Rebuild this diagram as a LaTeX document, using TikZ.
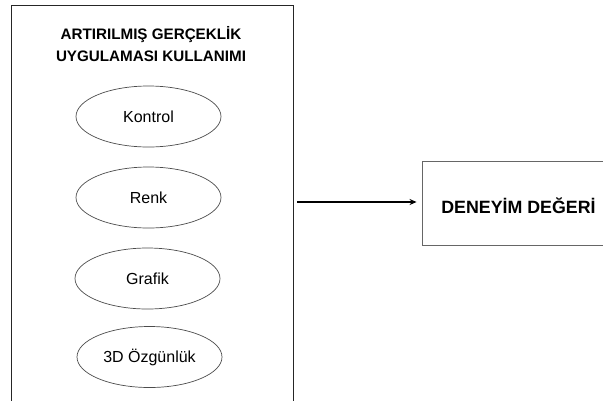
\documentclass[tikz,border=0pt]{standalone}
\usepackage{fontspec}
\setmainfont{Liberation Sans}
\usetikzlibrary{shapes.geometric,arrows.meta}
\tikzset{
  panel/.style={draw=black!85, line width=0.9pt, inner sep=0pt},
  oval/.style={ellipse, draw=black!70, line width=0.7pt, inner sep=0pt,
    minimum width=145pt, minimum height=61pt, font=\fontsize{16}{18}\selectfont},
  title/.style={font=\bfseries\fontsize{15.2}{17}\selectfont, inner sep=0pt},
  outbox/.style={draw=black!60, line width=0.9pt, inner sep=0pt,
    minimum width=192pt, minimum height=84pt},
  arr/.style={-{Stealth[length=7pt,width=6pt]}, line width=1.8pt}
}
\begin{document}
\begin{tikzpicture}[x=1pt,y=1pt]
\useasboundingbox (0,0) rectangle (603,-400);
\clip (0,0) rectangle (603,-400);
\node[panel, minimum width=282pt, minimum height=400pt] (left) at (152,-205) {};
\node[title] (t1) at (151,-34.3) {ARTIRILMIŞ GERÇEKLİK};
\node[title] (t2) at (151,-56.7) {UYGULAMASI KULLANIMI};
\node[oval] (e1) at (148.5,-116.5) {Kontrol};
\node[oval] (e2) at (148.5,-197.5) {Renk};
\node[oval] (e3) at (147.5,-278.5) {Grafik};
\node[oval] (e4) at (149.5,-357) {3D Özgünlük};
\node[outbox] (right) at (518,-203) {};
\node[font=\bfseries\fontsize{17.8}{20}\selectfont, inner sep=0pt] (rt) at (518.5,-206) {DENEYİM DEĞERİ};
\draw[arr, shorten <=4pt, shorten >=5pt] (left.east |- 0,-202) -- (right.west |- 0,-202);
\end{tikzpicture}
\end{document}
